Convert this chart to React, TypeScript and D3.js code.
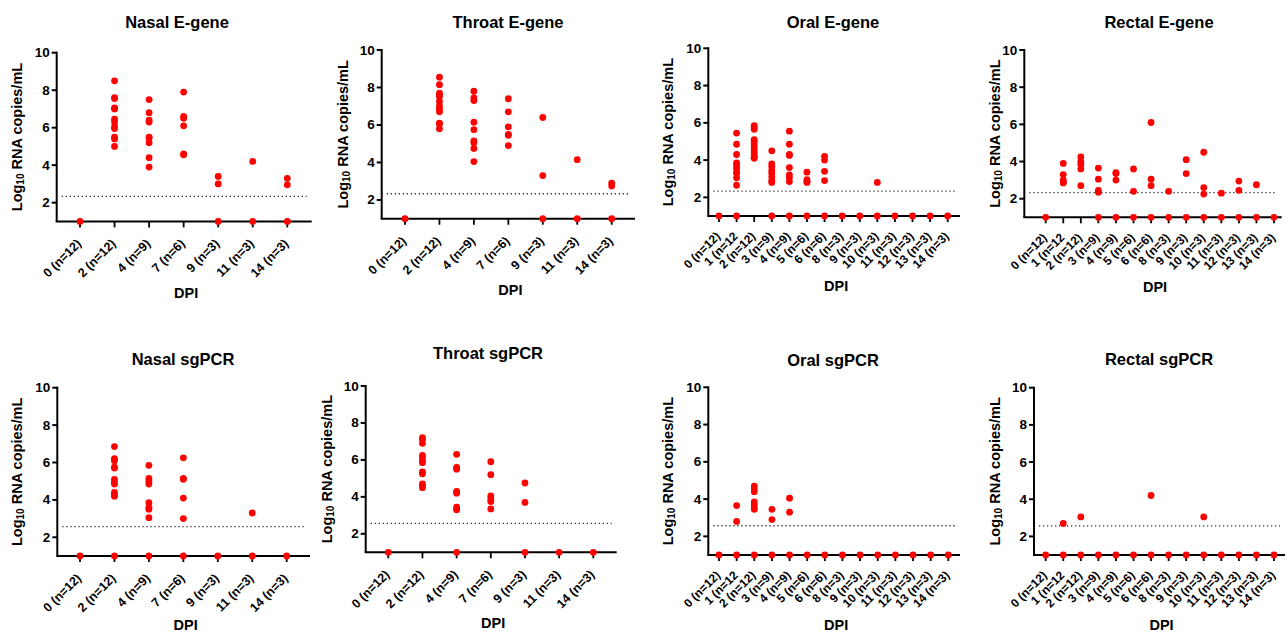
import React from "react";
import * as d3 from "d3";

// DPI categories
const sparseDays = ["0 (n=12)", "2 (n=12)", "4 (n=9)", "7 (n=6)", "9 (n=3)", "11 (n=3)", "14 (n=3)"];
const dailyDays = [
    "0 (n=12)", "1 (n=12", "2 (n=12)", "3 (n=9)", "4 (n=9)", "5 (n=6)", "6 (n=6)",
    "8 (n=3)", "9 (n=3)", "10 (n=3)", "11 (n=3)", "12 (n=3)", "13 (n=3)", "14 (n=3)",
];

const yTicks = [2, 4, 6, 8, 10];
const lodEgene = 2.33;
const lodSg = 2.57;

// log10 RNA copies/mL, one list per DPI
const nasalEgene = [
    [1],
    [8.5, 7.6, 7.55, 7.05, 7.0, 6.45, 6.3, 6.05, 5.95, 5.5, 5.4, 5.0],
    [7.5, 6.8, 6.4, 6.3, 5.5, 5.45, 5.2, 4.4, 3.9],
    [7.9, 6.6, 6.5, 6.1, 4.6, 4.55],
    [3.4, 3.0, 1],
    [4.2, 1],
    [3.3, 2.95, 1],
];
const throatEgene = [
    [1],
    [8.55, 8.15, 7.7, 7.6, 7.5, 7.25, 7.0, 6.85, 6.7, 6.1, 6.05, 5.8],
    [7.8, 7.45, 7.3, 6.15, 5.75, 5.15, 5.05, 4.75, 4.05],
    [7.4, 6.7, 5.9, 5.5, 5.45, 4.9],
    [6.4, 3.3, 1],
    [4.15, 1],
    [2.9, 2.75, 1],
];
const oralEgene = [
    [1],
    [5.45, 4.85, 4.3, 3.85, 3.7, 3.55, 3.35, 3.3, 3.05, 2.65, 1],
    [5.85, 5.75, 5.65, 5.1, 5.0, 4.85, 4.7, 4.55, 4.4, 4.25, 4.15, 4.1],
    [4.5, 3.8, 3.65, 3.45, 3.3, 3.1, 2.9, 2.8, 1],
    [5.55, 4.85, 4.3, 4.25, 3.6, 3.2, 3.05, 2.85, 1],
    [3.35, 2.95, 2.85, 2.8, 1],
    [4.2, 4.0, 3.4, 2.9, 1],
    [1], [1], [2.8, 1], [1], [1], [1], [1],
];
const rectalEgene = [
    [1],
    [3.9, 3.3, 3.0, 2.9, 2.85],
    [4.25, 4.0, 3.85, 3.6, 2.7],
    [3.65, 3.05, 2.45, 2.35, 1],
    [3.4, 3.35, 3.0, 1],
    [3.6, 2.4, 1],
    [6.1, 3.05, 2.7, 1],
    [2.4, 1],
    [4.1, 3.35, 1],
    [4.5, 2.6, 2.25, 1],
    [2.3, 1],
    [2.95, 2.45, 1],
    [2.75, 1],
    [1],
];
const nasalSg = [
    [1],
    [6.85, 6.2, 6.1, 5.75, 5.7, 5.1, 4.95, 4.85, 4.4, 4.3, 4.2, 1],
    [5.85, 5.15, 5.0, 4.85, 3.85, 3.6, 3.5, 3.05, 1],
    [6.25, 5.15, 5.1, 4.1, 3.0, 1],
    [1],
    [3.3, 1],
    [1],
];
const throatSg = [
    [1],
    [7.2, 7.1, 6.9, 6.25, 6.15, 5.95, 5.85, 5.35, 5.25, 4.7, 4.6, 4.5],
    [6.3, 5.6, 5.5, 4.3, 4.2, 3.45, 3.35, 3.3, 1],
    [5.9, 5.2, 4.05, 3.9, 3.75, 3.35],
    [4.75, 3.7, 1],
    [1],
    [1],
];
const oralSg = [
    [1],
    [3.65, 2.8, 1],
    [4.7, 4.55, 4.4, 3.85, 3.7, 3.55, 3.45, 1],
    [3.45, 2.9, 1],
    [4.05, 3.3, 1],
    [1], [1], [1], [1], [1], [1], [1], [1], [1],
];
const rectalSg = [
    [1], [2.7, 1], [3.05, 1], [1], [1], [1], [4.2, 1],
    [1], [1], [3.05, 1], [1], [1], [1], [1],
];

const panels = [
    { title: "Nasal E-gene", days: sparseDays, values: nasalEgene, lod: lodEgene,
      ax: 56.7, axEnd: 311.7, yTop: 52.7, yBot: 221.4, p0: 80, p1: 287.3, tx: 177, ty: 22, lx: 17, dpiY: 293 },
    { title: "Throat E-gene", days: sparseDays, values: throatEgene, lod: lodEgene,
      ax: 381.7, axEnd: 635, yTop: 50, yBot: 218.7, p0: 405, p1: 611.7, tx: 508, ty: 22, lx: 343, dpiY: 290 },
    { title: "Oral E-gene", days: dailyDays, values: oralEgene, lod: lodEgene,
      ax: 708.3, axEnd: 960, yTop: 48.3, yBot: 216, p0: 719, p1: 947.7, tx: 833, ty: 22, lx: 668, dpiY: 286 },
    { title: "Rectal E-gene", days: dailyDays, values: rectalEgene, lod: lodEgene,
      ax: 1024.3, axEnd: 1281.7, yTop: 50, yBot: 217.3, p0: 1045.7, p1: 1274, tx: 1159, ty: 22, lx: 995, dpiY: 287 },
    { title: "Nasal sgPCR", days: sparseDays, values: nasalSg, lod: lodSg,
      ax: 57.3, axEnd: 310, yTop: 387.7, yBot: 556, p0: 80, p1: 286.7, tx: 183, ty: 359, lx: 17, dpiY: 625 },
    { title: "Throat sgPCR", days: sparseDays, values: throatSg, lod: lodSg,
      ax: 365.7, axEnd: 616.7, yTop: 386, yBot: 552.3, p0: 388.3, p1: 593.3, tx: 488, ty: 353, lx: 327, dpiY: 623 },
    { title: "Oral sgPCR", days: dailyDays, values: oralSg, lod: lodSg,
      ax: 708.3, axEnd: 960, yTop: 387.3, yBot: 555, p0: 719, p1: 948.3, tx: 833, ty: 360, lx: 668, dpiY: 625 },
    { title: "Rectal sgPCR", days: dailyDays, values: rectalSg, lod: lodSg,
      ax: 1034, axEnd: 1285, yTop: 387.7, yBot: 555, p0: 1045.7, p1: 1274, tx: 1159, ty: 359, lx: 995, dpiY: 625 },
];

const FONT = "'Liberation Sans', Arial, sans-serif";

const Panel = ({ p }) => {
    const x = d3.scalePoint().domain(p.days).range([p.p0, p.p1]);
    const y = d3.scaleLinear().domain([1, 10]).range([p.yBot, p.yTop]);
    const dense = p.days.length > 7;
    const midY = (p.yTop + p.yBot) / 2;
    const dpiX = (p.ax + p.axEnd) / 2 + 2;

    return (
        <g fontFamily={FONT} fontWeight="bold" fill="#000">
            <text x={p.tx} y={p.ty} textAnchor="middle" dominantBaseline="central" fontSize={16.5}>
                {p.title}
            </text>

            {/* y axis */}
            <line x1={p.ax} x2={p.ax} y1={y(10) - 1} y2={y(1)} stroke="#000" strokeWidth={2} />
            {yTicks.map((t) => (
                <g key={t}>
                    <line x1={p.ax - 5} x2={p.ax} y1={y(t)} y2={y(t)} stroke="#000" strokeWidth={2} />
                    <text x={p.ax - 7} y={y(t)} textAnchor="end" dominantBaseline="central" fontSize={13.5}>
                        {t}
                    </text>
                </g>
            ))}
            <text
                transform={`translate(${p.lx},${midY}) rotate(-90)`}
                textAnchor="middle"
                dominantBaseline="central"
                fontSize={14.5}
            >
                Log<tspan fontSize={10} dy={3}>10</tspan>
                <tspan dy={-3}> RNA copies/mL</tspan>
            </text>

            {/* limit of detection */}
            <line
                x1={p.ax + 5}
                x2={p.axEnd - 5}
                y1={y(p.lod)}
                y2={y(p.lod)}
                stroke="#333"
                strokeWidth={1.3}
                strokeDasharray="1.3 2.7"
            />

            {/* x axis */}
            <line x1={p.ax - 1} x2={p.axEnd} y1={y(1)} y2={y(1)} stroke="#000" strokeWidth={2} />
            {p.days.map((d) => (
                <g key={d}>
                    <line x1={x(d)} x2={x(d)} y1={y(1)} y2={y(1) + 6} stroke="#000" strokeWidth={1.8} />
                    <text
                        transform={`translate(${x(d) + 2},${y(1) + (dense ? 21 : 23)}) rotate(-45)`}
                        textAnchor="end"
                        fontSize={dense ? 12 : 12.5}
                    >
                        {d}
                    </text>
                </g>
            ))}
            <text x={dpiX} y={p.dpiY} textAnchor="middle" dominantBaseline="central" fontSize={14.5}>
                DPI
            </text>

            {/* points */}
            {p.days.map((d, i) =>
                p.values[i].map((v, j) => (
                    <circle key={`${d}-${j}`} cx={x(d)} cy={y(v)} r={3.4} fill="#ff0000" />
                ))
            )}
        </g>
    );
};

export default function App() {
    return (
        <svg
            width={1288}
            height={637}
            style={{ position: "absolute", left: 0, top: 0, background: "#fff" }}
        >
            {panels.map((p) => (
                <Panel key={p.title} p={p} />
            ))}
        </svg>
    );
}
